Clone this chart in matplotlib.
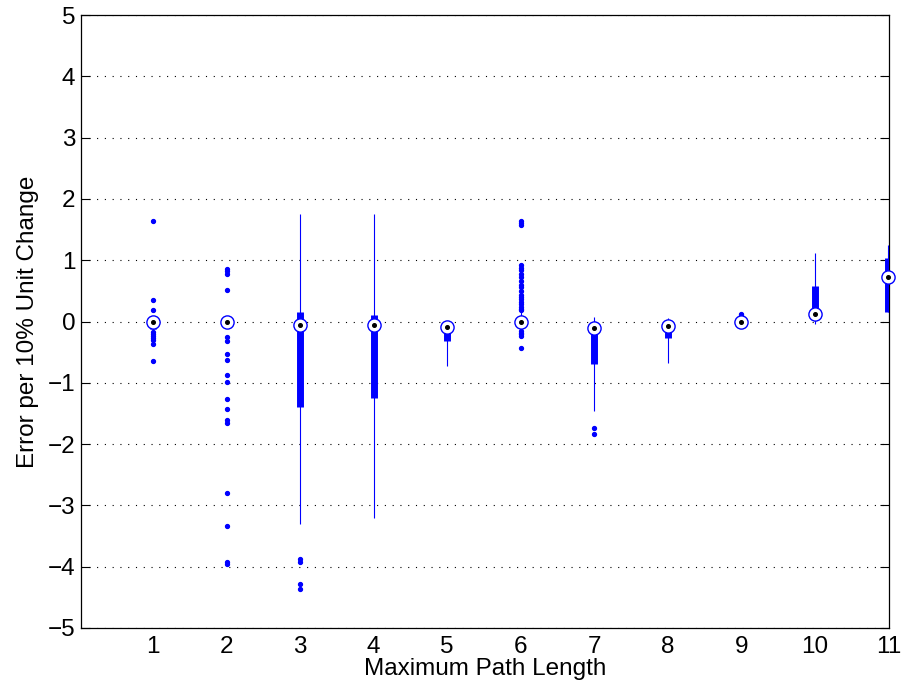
import matplotlib
matplotlib.use("Agg")
import matplotlib.pyplot as plt

plt.rcParams['font.family'] = ['Liberation Sans', 'DejaVu Sans']

positions = [1, 2, 3, 4, 5, 6, 7, 8, 9, 10, 11]
tick_labels = ['1', '2', '3', '4', '5', '6', '7', '8', '9', '10', '11']
medians = [0.0, 0.0, -0.05, -0.06, -0.09, 0.0, -0.11, -0.08, 0.0, 0.13, 0.73]
q1 = [-0.12, -0.02, -1.39, -1.25, -0.32, -0.05, -0.69, -0.27, 0.0, 0.12, 0.155]
q3 = [0.07, 0.02, 0.155, 0.10, -0.03, 0.06, -0.03, -0.03, 0.01, 0.58, 1.03]
whisker_lo = [-0.14, -0.02, -3.30, -3.20, -0.73, -0.12, -1.46, -0.67, 0.0, -0.04, 0.155]
whisker_hi = [0.08, 0.02, 1.75, 1.75, 0.01, 0.15, 0.08, 0.06, 0.03, 1.12, 1.25]
outliers = [
    [1.64, 0.35, 0.19, -0.17, -0.20, -0.24, -0.27, -0.30, -0.37, -0.64],
    [0.85, 0.82, 0.78, 0.51, -0.25, -0.32, -0.53, -0.63, -0.88, -0.99, -1.26,
     -1.42, -1.61, -1.66, -2.80, -3.33, -3.92, -3.96],
    [-3.88, -3.92, -4.28, -4.36],
    [],
    [],
    [1.64, 1.61, 1.57, 0.92, 0.88, 0.84, 0.78, 0.72, 0.66, 0.60, 0.56, 0.49,
     0.44, 0.40, 0.36, 0.32, 0.28, 0.24, 0.21, 0.18, -0.15, -0.18, -0.21,
     -0.24, -0.43],
    [-1.73, -1.84],
    [],
    [0.10, 0.12],
    [],
    [],
]

W, H = 906, 682
fig = plt.figure(figsize=(W / 100, H / 100), dpi=100)
ax = fig.add_axes([81 / W, 1 - 628 / H, 808 / W, 613 / H])

blue = (0, 0, 1)
ax.vlines(positions, whisker_lo, whisker_hi, color=blue, linewidth=0.8, zorder=3)
ax.vlines(positions, q1, q3, color=blue, linewidth=5.0, zorder=4)
for p, outs in zip(positions, outliers):
    if outs:
        ax.plot([p] * len(outs), outs, linestyle='none', marker='o',
                markersize=2.8, color=blue, mec=blue, zorder=5)
ax.plot(positions, medians, linestyle='none', marker='o', markersize=9.5,
        mfc='white', mec=blue, mew=1.0, zorder=6, clip_on=False)
ax.plot(positions, medians, linestyle='none', marker='o', markersize=2.6,
        mfc='black', mec='black', zorder=7, clip_on=False)

ax.set_xlim(0.02, 11.01)
ax.set_ylim(-5, 5)
ax.set_yticks(range(-5, 6))
ax.set_xticks(positions)
ax.set_xticklabels(tick_labels)
ax.yaxis.grid(True, linestyle=(0, (1, 6)), color='black', linewidth=0.8)
ax.set_axisbelow(True)
ax.tick_params(axis='y', direction='in', length=6.5, width=0.8, right=True,
               labelsize=17.5, pad=4)
ax.tick_params(axis='x', length=0, labelsize=17.5, pad=6)
for s in ax.spines.values():
    s.set_linewidth(0.9)
    s.set_color('black')

ax.set_xlabel('Maximum Path Length', fontsize=17.5, labelpad=0)
ax.set_ylabel('Error per 10% Unit Change', fontsize=17.5, labelpad=6)

fig.savefig('out.png', dpi=100)
